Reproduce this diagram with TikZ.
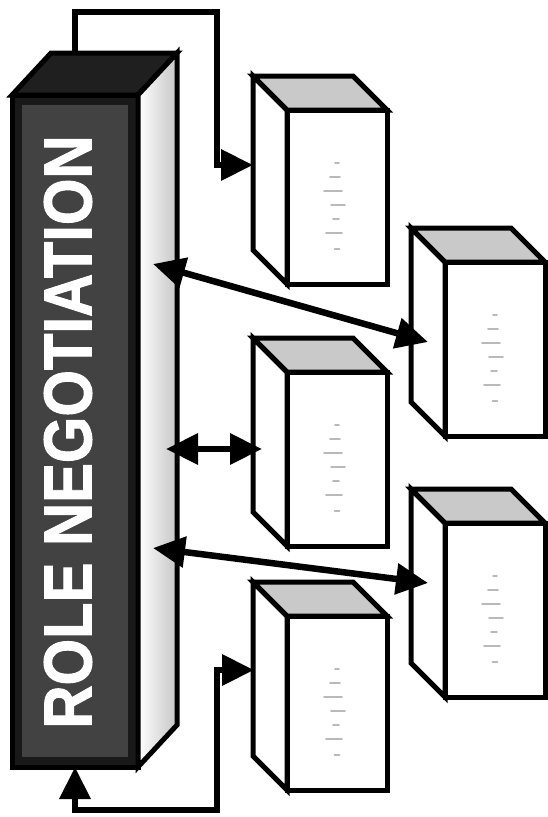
\documentclass[tikz,border=0pt]{standalone}
\usepackage{fontspec}
\usepackage{graphicx}
\setmainfont{Liberation Sans}
\newfontfamily\heavyfont[BoldFeatures={FakeBold=1.6}]{Liberation Sans}
\usetikzlibrary{arrows.meta,calc}
\begin{document}
\begin{tikzpicture}[x=1pt,y=-1pt,
  face/.style={draw=black, line width=5pt, line join=miter},
  bigfront/.style={face, fill=black!90, minimum width=126pt, minimum height=672pt, inner sep=0pt, outer sep=0pt},
  smallfront/.style={face, fill=white, minimum width=100pt, minimum height=174pt, inner sep=0pt, outer sep=0pt},
  conn/.style={line width=6.5pt, line join=miter, -{Triangle[length=32pt,width=30pt]}},
  dconn/.style={line width=6.5pt, line join=miter, {Triangle[length=32pt,width=30pt]}-{Triangle[length=32pt,width=30pt]}},
  scrib/.style={draw=gray!55, line width=1.8pt, line cap=round},
  label/.style={text=white, font=\heavyfont\bfseries, inner sep=0pt, rotate=90}]
\useasboundingbox (0,0) rectangle (547,817);

% big box
\node[bigfront] (rn) at (75,431) {};
\fill[black!74] ($(rn.north west)+(10,10)$) rectangle ($(rn.south east)+(-10,-10)$);
\draw[face, fill=black!88] (rn.north west) -- ++(39,-42) -- ($(rn.north east)+(39,-42)$) -- (rn.north east) -- cycle;
\draw[face, left color=white, right color=gray!45] (rn.north east) -- ++(39,-42) -- ($(rn.south east)+(39,-42)$) -- (rn.south east) -- cycle;
\node[label] (lbl) at (68,432) {\resizebox*{593pt}{48pt}{ROLE NEGOTIATION}};

% small boxes
\node[smallfront] (b1) at (337,197) {};
\node[smallfront] (b2) at (495,349) {};
\node[smallfront] (b3) at (337,459) {};
\node[smallfront] (b4) at (495,610) {};
\node[smallfront] (b5) at (337,703) {};
\foreach \b in {b1,b2,b3,b4,b5}{
  \draw[face, fill=white] (\b.north west) -- ++(-34,-34) -- ($(\b.south west)+(-34,-34)$) -- (\b.south west) -- cycle;
  \draw[face, fill=gray!42] (\b.north west) -- ++(-34,-34) -- ($(\b.north east)+(-34,-34)$) -- (\b.north east) -- cycle;
  \foreach \dx/\dy/\w in {0/-34/4,-2/-20/10,-4/-6/18,1/8/14,-1/22/6,-3/36/16,0/52/5}{
    \draw[scrib] ($(\b.center)+(\dx-\w/2,\dy)$) -- ++(\w,0);
  }
}

% connector end points
\coordinate (tb) at ($(rn.north)+(0,-42)$);
\coordinate (b1in) at ($(b1.north west)+(-34,55)$);
\coordinate (b5in) at ($(b5.north west)+(-33,54)$);
\coordinate (s1) at ($(rn.north east)+(15,169)$);
\coordinate (s2) at ($(rn.north east)+(28,354)$);
\coordinate (s3) at ($(rn.north east)+(15,453)$);
\coordinate (b2in) at ($(b2.north west)+(-17,80)$);
\coordinate (b3in) at ($(b3.north west)+(-25,77)$);
\coordinate (b4in) at ($(b4.north west)+(-17,60)$);

% connectors
\draw[conn] (tb) |- ++(142,-41) |- (b1in);
\draw[dconn] (rn.south) -- ++(0,43) -- ++(142,0) |- (b5in);
\draw[dconn] (s1) -- (b2in);
\draw[dconn] (s2) -- (b3in);
\draw[dconn] (s3) -- (b4in);
\end{tikzpicture}
\end{document}
